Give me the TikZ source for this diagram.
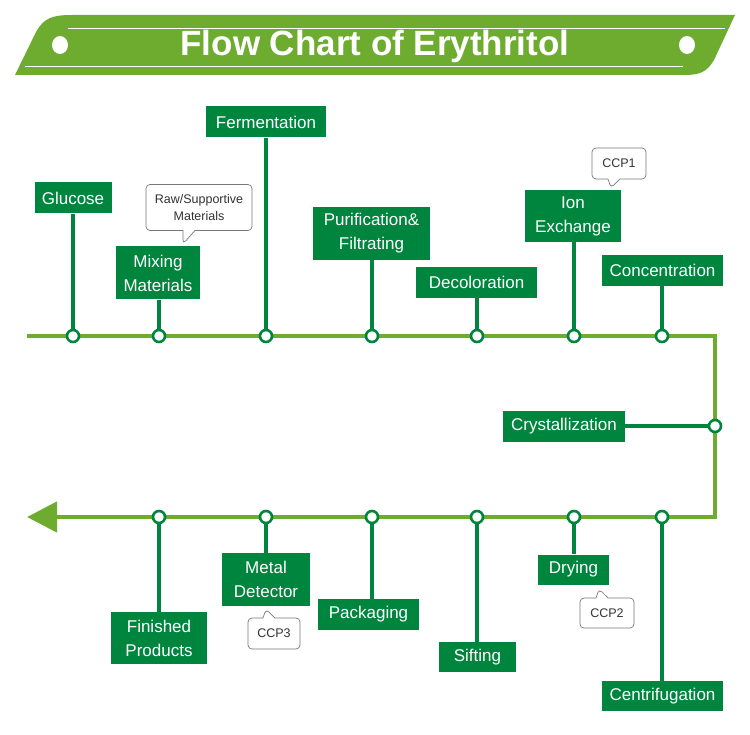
\documentclass[tikz,border=0pt]{standalone}
\usepackage{fontspec}
\setmainfont{Liberation Sans}
\usetikzlibrary{arrows.meta,shapes.callouts}
\definecolor{lgreen}{RGB}{109,172,46}
\definecolor{dgreen}{RGB}{0,133,62}
\definecolor{cgray}{RGB}{120,120,120}
\definecolor{ctext}{RGB}{50,50,50}
\pgfdeclarelayer{bg}
\pgfsetlayers{bg,main}
\begin{document}
\begin{tikzpicture}[x=1pt,y=-1pt,
  box/.style={fill=dgreen, text=white, font=\fontsize{17}{24}\selectfont, inner sep=0pt, align=center},
  dot/.style={circle, draw=dgreen, fill=white, line width=2.6pt, minimum size=12pt, inner sep=0pt},
  stem/.style={dgreen, line width=4pt},
  mainline/.style={lgreen, line width=4.5pt},
  note/.style={rectangle callout, draw=cgray, line width=0.7pt, fill=white, rounded corners=4pt, text=ctext, font=\fontsize{12.5}{17}\selectfont, align=center, inner sep=0pt, callout pointer width=12pt},
  banner/.style={fill=lgreen},
  thin/.style={white, line width=1pt},
  title/.style={text=white, font=\fontsize{35}{40}\selectfont\bfseries}
]
\useasboundingbox (0,0) rectangle (750,735);

% banner
\fill[banner] (15,75) -- (36,32) .. controls (44,18) and (52,15) .. (72,15) -- (735,15) -- (714,60) .. controls (707,72) and (700,75) .. (684,75) -- cycle;
\coordinate (tl1) at (68,29); \coordinate (tl2) at (725,29);
\coordinate (bl1) at (25,67); \coordinate (bl2) at (683,67);
\draw[thin] (tl1) -- (tl2);
\draw[thin] (bl1) -- (bl2);
\fill[white] (60,45) ellipse [x radius=8pt, y radius=9pt];
\fill[white] (687,45) ellipse [x radius=8pt, y radius=9pt];
\node[title] (ttl) at (375,46) {Flow Chart of Erythritol};

% main line coordinates
\coordinate (start) at (27,336);
\coordinate (cornA) at (715,336);
\coordinate (cornB) at (715,517);
\coordinate (tip) at (27,517);

% dots
\node[dot] (d1) at (73,336) {};
\node[dot] (d2) at (159,336) {};
\node[dot] (d3) at (266,336) {};
\node[dot] (d4) at (372,336) {};
\node[dot] (d5) at (477,336) {};
\node[dot] (d6) at (574,336) {};
\node[dot] (d7) at (662,336) {};
\node[dot] (d8) at (715,426) {};
\node[dot] (d9) at (662,517) {};
\node[dot] (d10) at (574,517) {};
\node[dot] (d11) at (477,517) {};
\node[dot] (d12) at (372,517) {};
\node[dot] (d13) at (266,517) {};
\node[dot] (d14) at (159,517) {};

% boxes
\node[box, minimum width=77pt, minimum height=31pt] (glu) at (73,198) {Glucose};
\node[box, minimum width=84pt, minimum height=53pt] (mix) at (158,273) {Mixing\\Materials};
\node[box, minimum width=120pt, minimum height=31pt] (fer) at (266,122) {Fermentation};
\node[box, minimum width=117pt, minimum height=53pt] (pur) at (371.5,233.5) {Purification\&\\Filtrating};
\node[box, minimum width=121pt, minimum height=31pt] (dec) at (476.5,282.5) {Decoloration};
\node[box, minimum width=96pt, minimum height=52pt] (ion) at (573,216) {Ion\\Exchange};
\node[box, minimum width=121pt, minimum height=31pt] (con) at (662.5,270.5) {Concentration};
\node[box, minimum width=122pt, minimum height=31pt] (cry) at (564,426) {Crystallization};
\node[box, minimum width=121pt, minimum height=30pt] (cen) at (662.5,696) {Centrifugation};
\node[box, minimum width=71pt, minimum height=30pt] (dry) at (573.5,569.5) {Drying};
\node[box, minimum width=77pt, minimum height=30pt] (sif) at (477.5,657) {Sifting};
\node[box, minimum width=101pt, minimum height=31pt] (pac) at (368.5,614.5) {Packaging};
\node[box, minimum width=88pt, minimum height=53pt] (met) at (266,579.5) {Metal\\Detector};
\node[box, minimum width=96pt, minimum height=52pt] (fin) at (159,638) {Finished\\Products};

% callouts
\coordinate (p1) at (183,244);
\coordinate (p2) at (611,188);
\coordinate (p3) at (266,609);
\coordinate (p4) at (599,589);
\node[note, minimum width=106pt, minimum height=46pt, callout absolute pointer={(p1)}] (raw) at (199,207.5) {Raw/Supportive\\Materials};
\node[note, minimum width=54pt, minimum height=31pt, callout absolute pointer={(p2)}] (ccp1) at (619,163.5) {CCP1};
\node[note, minimum width=52pt, minimum height=31pt, callout absolute pointer={(p3)}] (ccp3) at (274,633.5) {CCP3};
\node[note, minimum width=54pt, minimum height=30pt, callout absolute pointer={(p4)}] (ccp2) at (607,613) {CCP2};

\begin{pgfonlayer}{bg}
\draw[mainline, -{Triangle[length=30pt,width=30pt]}] (start) -- (cornA) -- (cornB) -- (tip);
\draw[stem] (d1) -- (d1 |- glu.south);
\draw[stem] (d2) -- (d2 |- mix.south);
\draw[stem] (d3) -- (d3 |- fer.south);
\draw[stem] (d4) -- (d4 |- pur.south);
\draw[stem] (d5) -- (d5 |- dec.south);
\draw[stem] (d6) -- (d6 |- ion.south);
\draw[stem] (d7) -- (d7 |- con.south);
\draw[stem] (d8) -- (d8 -| cry.east);
\draw[stem] (d9) -- (d9 |- cen.north);
\draw[stem] (d10) -- (d10 |- dry.north);
\draw[stem] (d11) -- (d11 |- sif.north);
\draw[stem] (d12) -- (d12 |- pac.north);
\draw[stem] (d13) -- (d13 |- met.north);
\draw[stem] (d14) -- (d14 |- fin.north);
\end{pgfonlayer}
\end{tikzpicture}
\end{document}
